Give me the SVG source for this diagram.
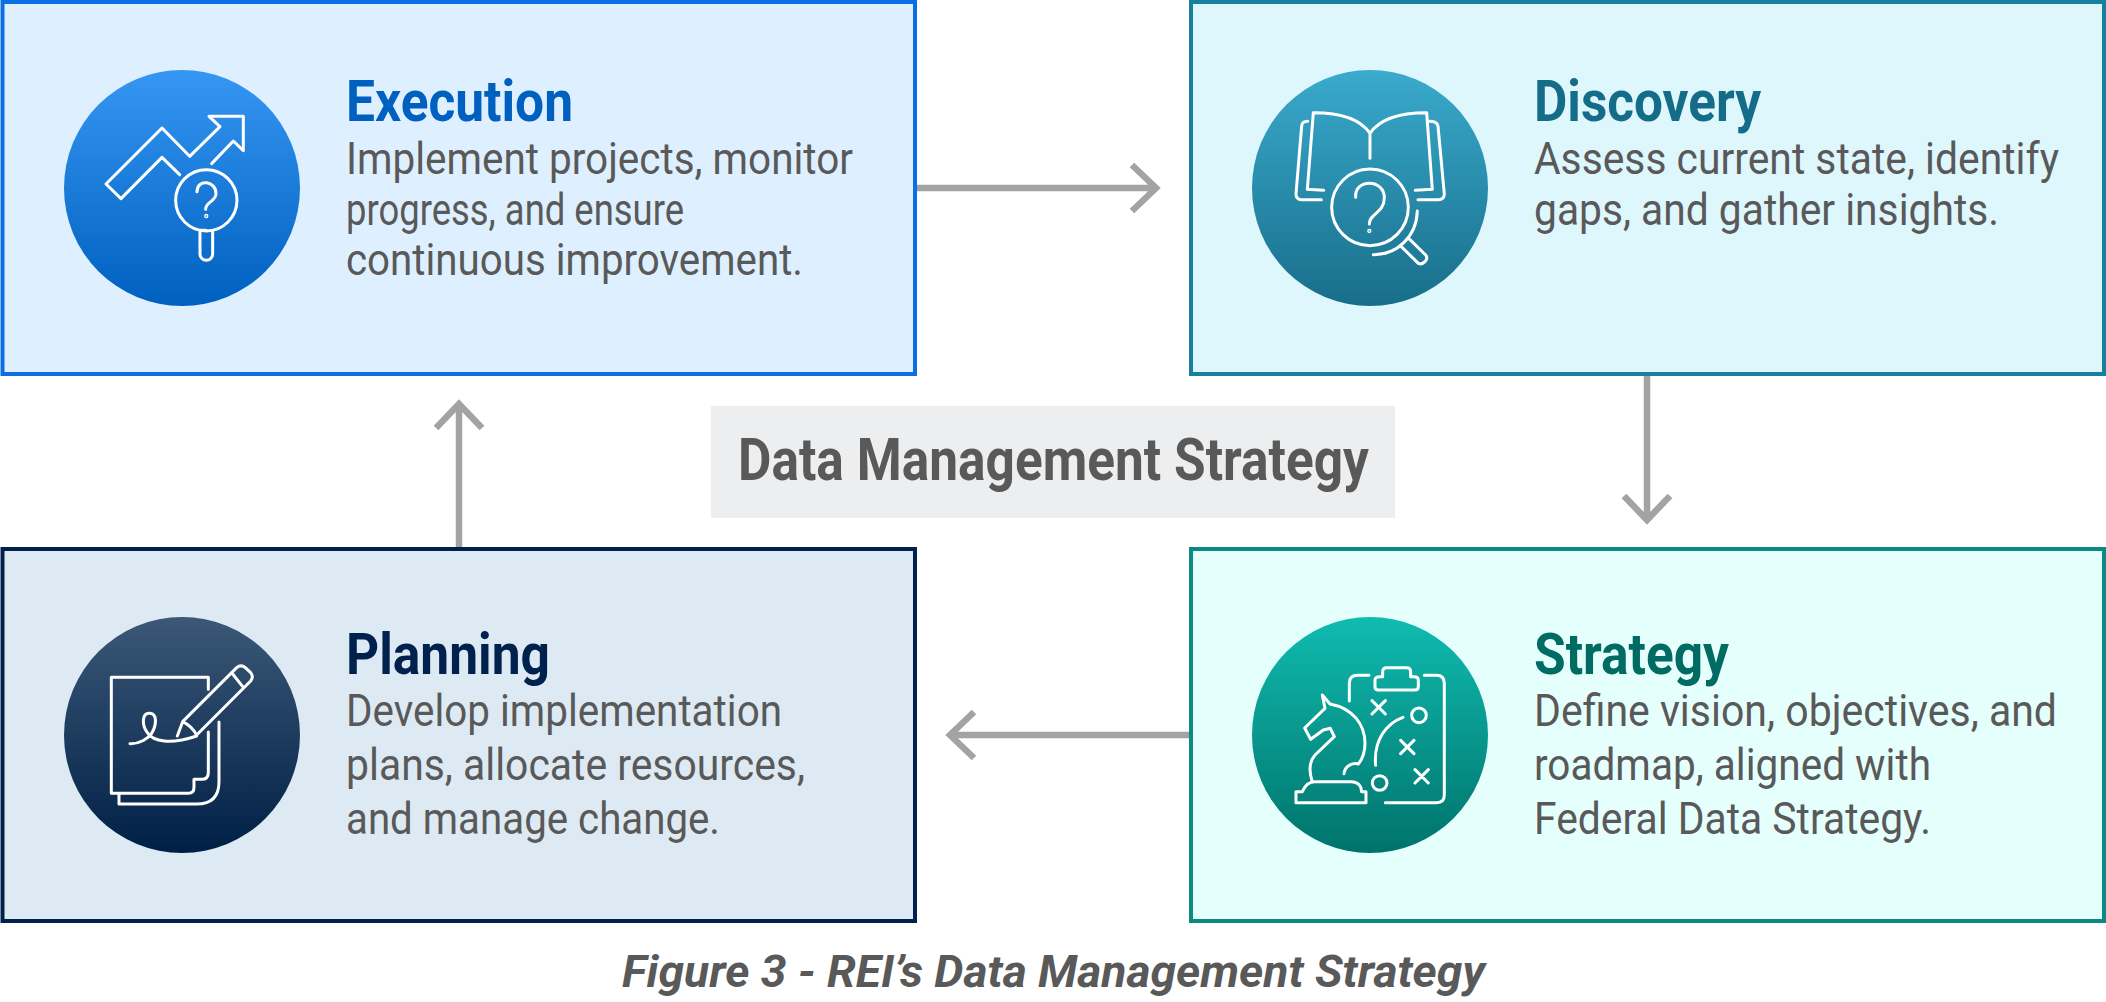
<svg xmlns="http://www.w3.org/2000/svg" width="2106" height="1002" viewBox="0 0 2106 1002">
<style>
.box{stroke-width:4}
.ic{fill:none;stroke:#fff;stroke-width:9;stroke-linecap:round;stroke-linejoin:round}
.t{font-family:Roboto,"Liberation Sans",sans-serif;font-weight:700;font-size:57px}
.b{font-family:Roboto,"Liberation Sans",sans-serif;font-size:45px;fill:#595959}
.con{fill:none;stroke:#a3a3a3;stroke-width:6.5}
</style>
<defs>
<linearGradient id="g1" x1="0" y1="0" x2="0" y2="1"><stop offset="0" stop-color="#3596f3"/><stop offset="1" stop-color="#0060bf"/></linearGradient>
<linearGradient id="g2" x1="0" y1="0" x2="0" y2="1"><stop offset="0" stop-color="#3aaacd"/><stop offset="1" stop-color="#186e8a"/></linearGradient>
<linearGradient id="g3" x1="0" y1="0" x2="0" y2="1"><stop offset="0" stop-color="#3b5877"/><stop offset="1" stop-color="#001f45"/></linearGradient>
<linearGradient id="g4" x1="0" y1="0" x2="0" y2="1"><stop offset="0" stop-color="#10bbb0"/><stop offset="1" stop-color="#00736b"/></linearGradient>
</defs>
<g id="connectors" class="con">
<path d="M915 188H1155M1132 165L1156 188L1132 211"/>
<path d="M1647 374V519M1624 496L1647 520L1670 496"/>
<path d="M1190 735H950M974 712L950 735L974 758"/>
<path d="M459 549V405M436 428L459 404L482 428"/>
</g>
<g id="title">
<rect x="711" y="406" width="684" height="112" fill="#edeef0"/>
<text x="738" y="480" font-family="Roboto,sans-serif" font-weight="700" font-size="59" fill="#595959" textLength="631" lengthAdjust="spacingAndGlyphs">Data Management Strategy</text>
</g>
<g id="execution">
<rect class="box" x="2.5" y="2" width="912.5" height="372" fill="#def0ff" stroke="#0a6fe3"/>
<circle cx="182" cy="188" r="118" fill="url(#g1)"/>
<g class="ic" transform="translate(40 50) scale(.3333)">
<path d="M419 374L366 322L243 446L198 402L366 234L449 319L540 230L507 199H610V302L580 273L515 341"/>
<circle cx="499" cy="451" r="92"/>
<path d="M498 541H480V612a19 19 0 0 0 38 0V543"/>
<path d="M471 425C471 385 530 392 528 432C527 455 497 455 497 478"/>
<circle cx="499" cy="498" r="2"/>
</g>
<text class="t" x="346" y="121" fill="#0060bf" textLength="227" lengthAdjust="spacingAndGlyphs">Execution</text>
<text class="b" x="346" y="174" textLength="507" lengthAdjust="spacingAndGlyphs">Implement projects, monitor</text>
<text class="b" x="346" y="225" textLength="338" lengthAdjust="spacingAndGlyphs">progress, and ensure</text>
<text class="b" x="346" y="275" textLength="457" lengthAdjust="spacingAndGlyphs">continuous improvement.</text>
</g>
<g id="discovery">
<rect class="box" x="1191" y="2" width="913" height="372" fill="#def7fd" stroke="#187f9d"/>
<circle cx="1370" cy="188" r="118" fill="url(#g2)"/>
<g class="ic" transform="translate(1230 50) scale(.3333)">
<path d="M420 325V250M420 250C390 205 330 188 250 188L232 418L281 421M420 250C450 205 510 188 590 188L607 418L556 421"/>
<path d="M233 214C222 214 216 218 215 228L198 432C198 445 205 449 215 449L274 449M598 214C610 214 622 218 624 228L643 432C643 445 635 449 625 449L564 449"/>
<circle cx="420" cy="472" r="115"/>
<path d="M562 483C560 560 500 615 430 614M514 590L565 640Q575 645 585 635Q595 625 587 615L537 566"/>
<path d="M377 442C372 385 465 385 463 445C462 490 418 490 418 522"/>
<circle cx="418" cy="543" r="2"/>
</g>
<text class="t" x="1534" y="121" fill="#156c88" textLength="227" lengthAdjust="spacingAndGlyphs">Discovery</text>
<text class="b" transform="translate(1534 174) scale(.9 1)" textLength="583.3" lengthAdjust="spacingAndGlyphs">Assess current state, identify</text>
<text class="b" x="1534" y="225" textLength="465" lengthAdjust="spacingAndGlyphs">gaps, and gather insights.</text>
</g>
<g id="planning">
<rect class="box" x="2.5" y="549" width="912.5" height="372" fill="#deeaf3" stroke="#00214d"/>
<circle cx="182" cy="735" r="118" fill="url(#g3)"/>
<g class="ic" transform="translate(40 600) scale(.3333)">
<path d="M505 268V232H214V580H445Q462 580 462 562V538H485Q505 538 505 518V396"/>
<path d="M237 582V612H470Q537 612 537 545V366"/>
<path d="M412 408L428 365L590 203Q603 192 616 203L632 218Q642 230 632 243L470 405M578 222L610 262M428 365Q455 378 470 405"/>
<path d="M270 431C300 432 325 415 335 400C350 375 352 342 330 340C305 338 305 375 322 398C340 425 390 435 470 408"/>
</g>
<text class="t" x="346" y="674" fill="#00214d" textLength="204" lengthAdjust="spacingAndGlyphs">Planning</text>
<text class="b" x="346" y="726" textLength="436" lengthAdjust="spacingAndGlyphs">Develop implementation</text>
<text class="b" x="346" y="780" textLength="459" lengthAdjust="spacingAndGlyphs">plans, allocate resources,</text>
<text class="b" x="346" y="834" textLength="374" lengthAdjust="spacingAndGlyphs">and manage change.</text>
</g>
<g id="strategy">
<rect class="box" x="1191" y="549" width="913" height="372" fill="#e5fffc" stroke="#0a8a82"/>
<circle cx="1370" cy="735" r="118" fill="url(#g4)"/>
<g class="ic" transform="translate(1230 600) scale(.3333)">
<path d="M358 303V250Q358 226 382 226H417M583 226H620Q643 226 643 250V585Q643 608 620 608H466"/>
<path d="M445 270Q435 270 435 260V240Q435 230 450 230H458V215Q458 203 470 203H530Q542 203 542 215V230H552Q565 230 565 240V260Q565 270 555 270Z"/>
<path d="M426 302L466 342M466 302L426 342M512 421L552 461M552 421L512 461M555 509L595 549M595 509L555 549"/>
<circle cx="567" cy="346" r="22"/><circle cx="449" cy="549" r="22"/>
<path d="M519 352C470 370 430 420 437 496"/>
<path d="M342 521C345 495 370 488 385 492C395 480 405 460 405 430C405 375 370 325 300 312L277 285L285 325L224 384L242 418L280 390L301 385L313 410L255 465C238 485 235 510 247 545"/>
<path d="M198 608V575H217C225 555 235 545 255 545H365C385 545 395 560 395 575H408V608Z"/>
</g>
<text class="t" x="1534" y="674" fill="#006b62" textLength="195" lengthAdjust="spacingAndGlyphs">Strategy</text>
<text class="b" x="1534" y="726" textLength="523" lengthAdjust="spacingAndGlyphs">Define vision, objectives, and</text>
<text class="b" x="1534" y="780" textLength="397" lengthAdjust="spacingAndGlyphs">roadmap, aligned with</text>
<text class="b" x="1534" y="834" textLength="397" lengthAdjust="spacingAndGlyphs">Federal Data Strategy.</text>
</g>
<g id="caption">
<text x="622" y="987" font-family="Roboto,sans-serif" font-weight="700" font-style="italic" font-size="45" fill="#595959" textLength="863" lengthAdjust="spacingAndGlyphs">Figure 3 - REI’s Data Management Strategy</text>
</g>
</svg>
